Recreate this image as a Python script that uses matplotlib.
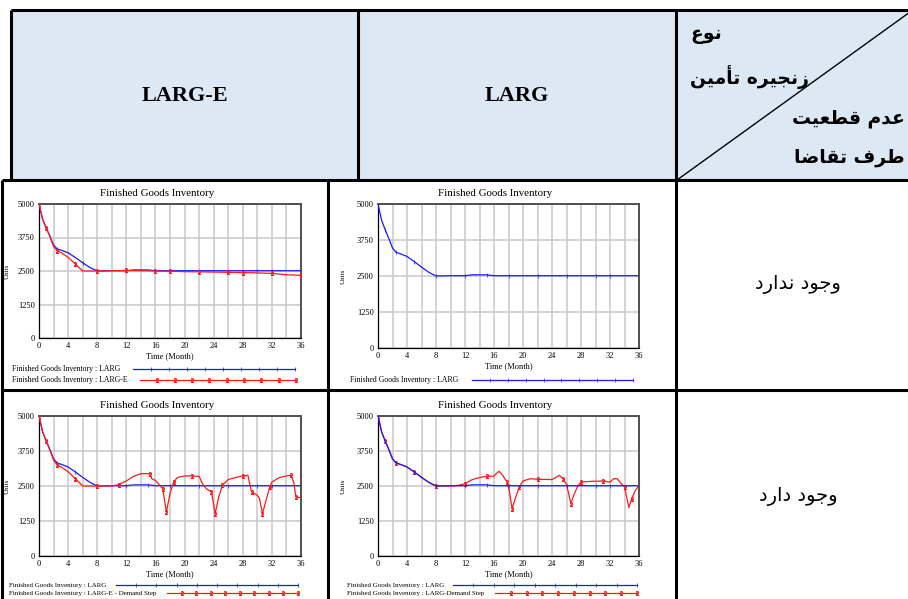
import numpy as np
import matplotlib
matplotlib.use("Agg")
import matplotlib.pyplot as plt
from matplotlib.lines import Line2D
from matplotlib.patches import Rectangle

# Finished goods inventory, months 0..36
larg_t = [0, 0.5, 1, 1.5, 2, 2.5, 3, 4, 5, 6, 7, 8, 10, 12, 13, 15, 16, 18, 20, 22, 24, 26, 28, 30, 32, 34, 36]
larg_v = [5000, 4430, 4100, 3800, 3470, 3320, 3280, 3180, 3000, 2810, 2630, 2500, 2510, 2510, 2540, 2540,
          2510, 2510, 2510, 2510, 2510, 2510, 2510, 2510, 2510, 2510, 2510]

large_t = [0, 0.5, 1, 1.5, 2, 2.5, 3, 4, 5, 6, 8, 10, 12, 14, 16, 18, 20, 22, 24, 26, 28, 30, 32, 34, 36]
large_v = [5000, 4430, 4100, 3780, 3420, 3250, 3190, 3010, 2760, 2500, 2500, 2510, 2520, 2510, 2500, 2490,
           2475, 2470, 2460, 2450, 2440, 2430, 2410, 2360, 2340]

large_step_t = [0, 0.5, 1, 1.5, 2, 2.5, 3, 4, 5, 6, 8, 10, 11, 12, 13, 14, 15.2, 15.5, 16, 16.5, 17, 17.5,
                18, 18.5, 19, 20, 21, 22, 22.5, 23, 23.7, 24.2, 24.7, 25.2, 26, 27, 28, 28.7, 29.2, 30,
                30.3, 30.7, 31.2, 31.7, 32, 33, 34, 34.6, 35, 35.3, 36]
large_step_v = [5000, 4430, 4100, 3780, 3420, 3250, 3190, 3010, 2760, 2500, 2500, 2500, 2550, 2680, 2845,
                2940, 2940, 2760, 2700, 2550, 2405, 1570, 2230, 2640, 2800, 2860, 2860, 2845, 2560, 2400,
                2290, 1510, 2110, 2525, 2730, 2800, 2860, 2880, 2290, 2170, 2050, 1510, 1990, 2460, 2640,
                2800, 2860, 2880, 2640, 2110, 2080]

larg_step_t = [0, 0.5, 1, 1.5, 2, 2.5, 3, 4, 5, 6, 7, 8, 10, 11, 12, 13, 14, 15, 16, 16.3, 16.7, 17.2, 17.8,
               18.1, 18.5, 19, 19.5, 20, 21, 22, 24, 24.5, 25, 25.5, 26, 26.3, 26.6, 27, 27.5, 28, 29, 31,
               32, 32.5, 33, 33.5, 34, 34.3, 34.6, 35, 35.5, 36]
larg_step_v = [5000, 4430, 4100, 3800, 3470, 3320, 3280, 3180, 3000, 2810, 2630, 2500, 2500, 2520, 2580,
               2730, 2800, 2850, 2850, 2940, 3025, 2880, 2640, 2345, 1690, 2110, 2470, 2680, 2760, 2740,
               2730, 2800, 2880, 2760, 2560, 2230, 1870, 2170, 2470, 2640, 2660, 2680, 2640, 2760, 2760,
               2600, 2470, 2110, 1730, 2050, 2345, 2520]

y_ticks = [0, 1250, 2500, 3750, 5000]
x_ticks = list(range(0, 37, 4))

col_titles = ["LARG-E", "LARG"]
corner_top = ["نوع", "زنجیره تأمین"]
corner_bottom = ["عدم قطعیت", "طرف تقاضا"]
row_titles = ["وجود ندارد", "وجود دارد"]
chart_title = "Finished Goods Inventory"

W, H = 908, 599
BLUE = "#1a1aff"
RED = "#ff1a1a"
SERIF = "Liberation Serif"

# --- tiny arabic shaper (matplotlib has no bidi / joining) ---
FORMS = {
    "ا": (0xFE8D, 0xFE8E), "أ": (0xFE83, 0xFE84), "د": (0xFEA9, 0xFEAA),
    "ر": (0xFEAD, 0xFEAE), "ز": (0xFEAF, 0xFEB0), "و": (0xFEED, 0xFEEE),
    "ت": (0xFE95, 0xFE96, 0xFE97, 0xFE98), "ج": (0xFE9D, 0xFE9E, 0xFE9F, 0xFEA0),
    "ض": (0xFEBD, 0xFEBE, 0xFEBF, 0xFEC0), "ط": (0xFEC1, 0xFEC2, 0xFEC3, 0xFEC4),
    "ع": (0xFEC9, 0xFECA, 0xFECB, 0xFECC), "ف": (0xFED1, 0xFED2, 0xFED3, 0xFED4),
    "ق": (0xFED5, 0xFED6, 0xFED7, 0xFED8), "م": (0xFEE1, 0xFEE2, 0xFEE3, 0xFEE4),
    "ن": (0xFEE5, 0xFEE6, 0xFEE7, 0xFEE8), "ه": (0xFEE9, 0xFEEA, 0xFEEB, 0xFEEC),
    "ی": (0xFEEF, 0xFEF0, 0xFEF3, 0xFEF4),
}


def shape(text):
    out = []
    for i, ch in enumerate(text):
        forms = FORMS.get(ch)
        if forms is None:
            out.append(ch)
            continue
        prev = text[i - 1] if i > 0 else ""
        nxt = text[i + 1] if i + 1 < len(text) else ""
        jp = prev in FORMS and len(FORMS[prev]) == 4
        jn = len(forms) == 4 and nxt in FORMS
        idx = 3 if (jp and jn) else 1 if jp else 2 if jn else 0
        out.append(chr(forms[idx]))
    return "".join(reversed(out))


def fx(x):
    return x / W


def fy(y):
    return 1 - y / H


def hline(x0, x1, y, lw=2.2, color="black"):
    fig.add_artist(Line2D([fx(x0), fx(x1)], [fy(y), fy(y)], lw=lw, color=color, solid_capstyle="butt"))


def vline(x, y0, y1, lw=2.2, color="black"):
    fig.add_artist(Line2D([fx(x), fx(x)], [fy(y0), fy(y1)], lw=lw, color=color, solid_capstyle="butt"))


def chart(box, series, title_x, units_x, legend):
    left, top, right, bottom = box
    ax = fig.add_axes([fx(left), fy(bottom), (right - left) / W, (bottom - top) / H])
    for t, v, c, m in series:
        ax.plot(t, v, color=c, lw=0.9, marker=m, markersize=2.8, markeredgewidth=0.5,
                markevery=0.085, zorder=3)
    ax.set_xlim(0, 36)
    ax.set_ylim(0, 5000)
    ax.set_xticks(x_ticks)
    ax.set_xticks(range(0, 37, 2), minor=True)
    ax.set_yticks(y_ticks)
    ax.grid(True, which="both", color="#c8c8c8", lw=1.1)
    ax.tick_params(length=0, which="both", labelsize=6, pad=3)
    for lab in ax.get_xticklabels() + ax.get_yticklabels():
        lab.set_fontfamily(SERIF)
    for s in ["left", "bottom"]:
        ax.spines[s].set_color("black")
        ax.spines[s].set_linewidth(0.9)
    for s in ["top", "right"]:
        ax.spines[s].set_color("#505050")
        ax.spines[s].set_linewidth(1.4)
    fig.text(fx(title_x), fy(top - 11), chart_title, ha="center", va="center",
             family=SERIF, fontsize=7.8)
    fig.text(fx((left + right) / 2), fy(bottom + 18), "Time (Month)", ha="center", va="center",
             family=SERIF, fontsize=6)
    fig.text(fx(units_x), fy((top + bottom) / 2), "Units", rotation=90, ha="center",
             va="center", family=SERIF, fontsize=5, zorder=5)
    for text, tx, ty, fs, x0, x1, c, m in legend:
        fig.text(fx(tx), fy(ty), text, ha="left", va="center", family=SERIF, fontsize=fs)
        xs = np.linspace(fx(x0), fx(x1), 10)
        fig.add_artist(Line2D(xs, [fy(ty)] * len(xs), color=c, lw=0.9, marker=m, markersize=2.8,
                              markeredgewidth=0.5, markevery=(1, 1)))


fig = plt.figure(figsize=(W / 100, H / 100), dpi=100)

# header band
fig.add_artist(Rectangle((fx(11), fy(180)), fx(908) - fx(11), fy(10) - fy(180),
                         facecolor="#dde8f5", edgecolor="none", zorder=0))

# table grid
hline(11, 908, 10)
hline(2, 908, 180)
hline(2, 908, 390)
vline(11, 10, 180)
vline(2, 180, 599)
vline(358, 10, 180)
vline(328, 180, 599)
vline(676, 10, 599)
fig.add_artist(Line2D([fx(677), fx(910)], [fy(180), fy(12)], lw=1.0, color="black"))

# header texts
fig.text(fx(185), fy(96), col_titles[0], ha="center", va="center", family=SERIF,
         fontweight="bold", fontsize=16)
fig.text(fx(517), fy(96), col_titles[1], ha="center", va="center", family=SERIF,
         fontweight="bold", fontsize=16)
fig.text(fx(690), fy(34), shape(corner_top[0]), ha="left", va="center", family="DejaVu Sans",
         fontweight="bold", fontsize=13.5)
fig.text(fx(690), fy(77), shape(corner_top[1]), ha="left", va="center", family="DejaVu Sans",
         fontweight="bold", fontsize=13.5)
fig.text(fx(905), fy(118), shape(corner_bottom[0]), ha="right", va="center", family="DejaVu Sans",
         fontweight="bold", fontsize=13.5)
fig.text(fx(905), fy(157), shape(corner_bottom[1]), ha="right", va="center", family="DejaVu Sans",
         fontweight="bold", fontsize=13.5)
fig.text(fx(798), fy(284), shape(row_titles[0]), ha="center", va="center", family="DejaVu Sans",
         fontsize=14)
fig.text(fx(798), fy(496), shape(row_titles[1]), ha="center", va="center", family="DejaVu Sans",
         fontsize=14)

# top-left: LARG vs LARG-E
chart((39, 204, 301, 338),
      [(larg_t, larg_v, BLUE, "|"), (large_t, large_v, RED, "$2$")], 157, 7,
      [("Finished Goods Inventory : LARG", 12, 369, 5.6, 133, 295, BLUE, "|"),
       ("Finished Goods Inventory : LARG-E", 12, 380, 5.6, 140, 296, RED, "$2$")])

# top-right: LARG only
chart((378, 204, 639, 348),
      [(larg_t, larg_v, BLUE, "|")], 495, 343,
      [("Finished Goods Inventory : LARG", 350, 380, 5.6, 472, 633, BLUE, "|")])

# bottom-left: demand step on LARG-E
chart((39, 416, 301, 556),
      [(larg_t, larg_v, BLUE, "|"), (large_step_t, large_step_v, RED, "$2$")], 157, 7,
      [("Finished Goods Inventory : LARG", 9, 585, 5, 116, 298, BLUE, "|"),
       ("Finished Goods Inventory : LARG-E - Demand Step", 9, 593, 5, 167, 298, RED, "$2$")])

# bottom-right: demand step on LARG
chart((378, 416, 639, 556),
      [(larg_step_t, larg_step_v, RED, "$2$"), (larg_t, larg_v, BLUE, "|")], 495, 343,
      [("Finished Goods Inventory : LARG", 347, 585, 5, 453, 637, BLUE, "|"),
       ("Finished Goods Inventory : LARG-Demand Step", 347, 593, 5, 495, 637, RED, "$2$")])

fig.savefig("out.png", dpi=100)
